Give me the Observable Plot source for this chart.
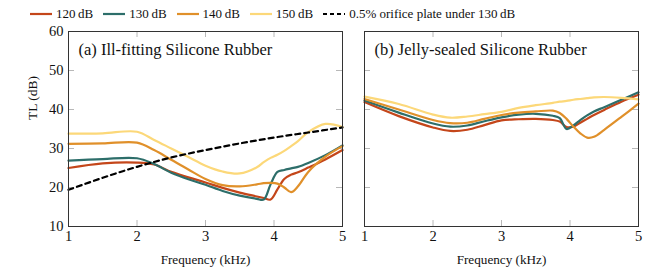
<!DOCTYPE html>
<html>
<head>
<meta charset="utf-8">
<script src="https://cdn.jsdelivr.net/npm/d3@7"></script>
<script src="https://cdn.jsdelivr.net/npm/@observablehq/plot@0.6"></script>
<style>
  html, body { margin: 0; padding: 0; background: #fff; }
  #wrap { width: 654px; height: 273px; font-family: "Liberation Serif", "DejaVu Serif", serif; color: #111; }
  #legend { height: 28px; display: flex; align-items: center; padding-left: 30px; font-size: 13px; }
  .item { display: flex; align-items: center; margin-right: 10px; }
  .item svg { margin-right: 4px; }
  #row { display: flex; height: 245px; }
  svg { overflow: visible; }
</style>
</head>
<body>
<div id="wrap">
  <div id="legend"></div>
  <div id="row"></div>
</div>
<script>
// ---- data ----
const freq = [1, 1.5, 2, 2.25, 2.5, 2.75, 3, 3.25, 3.5, 3.75, 3.85, 3.95, 4.05, 4.15, 4.25, 4.35, 4.5, 4.75, 5];

// (a) Ill-fitting Silicone Rubber
const a120 = [25.0, 26.2, 26.4, 25.9, 24.0, 22.6, 21.3, 19.9, 18.7, 17.7, 17.3, 16.9, 19.5, 22.2, 23.3, 23.9, 25.1, 27.2, 29.6];
const a130 = [26.9, 27.3, 27.5, 26.0, 23.8, 22.1, 20.7, 19.1, 17.9, 17.1, 16.9, 20.8, 24.0, 24.5, 24.9, 25.3, 26.3, 28.3, 30.8];
const a140 = [31.2, 31.3, 31.5, 29.6, 27.1, 24.6, 22.2, 20.6, 20.3, 20.8, 21.1, 21.2, 21.0, 20.0, 18.8, 20.3, 24.0, 27.9, 30.6];
const a150 = [33.8, 33.9, 34.3, 32.2, 30.0, 27.8, 25.6, 24.1, 23.6, 25.2, 26.5, 27.6, 28.4, 29.4, 30.6, 31.9, 34.2, 36.3, 35.5];

// (b) Jelly-sealed Silicone Rubber
const b120 = [41.9, 38.3, 35.4, 34.5, 34.8, 36.0, 37.2, 37.5, 37.6, 37.3, 36.9, 35.5, 35.6, 36.6, 37.6, 38.6, 39.9, 42.0, 43.8];
const b130 = [42.3, 39.2, 36.4, 35.6, 35.9, 37.0, 38.0, 38.7, 38.9, 38.4, 37.8, 35.0, 35.9, 37.3, 38.5, 39.5, 40.6, 42.5, 44.4];
const b140 = [42.7, 40.0, 37.3, 36.5, 36.6, 37.6, 38.6, 39.2, 39.5, 39.7, 39.1, 37.6, 35.6, 33.9, 32.8, 33.0, 34.8, 38.1, 41.5];
const b150 = [43.3, 41.4, 38.7, 37.9, 38.2, 38.8, 39.4, 40.4, 41.1, 41.7, 42.0, 42.2, 42.5, 42.7, 42.9, 43.1, 43.2, 43.0, 42.6];

// 0.5% orifice plate under 130 dB
const orificeFreq = [1, 1.5, 2, 2.5, 3, 3.5, 4, 4.5, 5];
const orificeTL = [19.4, 22.5, 25.3, 27.7, 29.6, 31.3, 32.8, 34.1, 35.4];

const seriesNames = ["120\u2009dB", "130\u2009dB", "140\u2009dB", "150\u2009dB"];
const seriesColors = ["#c4461a", "#2d6e6a", "#e0902a", "#fcd879"];
const orificeName = "0.5% orifice plate under 130\u2009dB";
const panelTitles = ["(a) Ill-fitting Silicone Rubber", "(b) Jelly-sealed Silicone Rubber"];
const xTicks = [1, 2, 3, 4, 5];
const yTicks = [10, 20, 30, 40, 50, 60];
const xLabel = "Frequency (kHz)";
const yLabel = "TL (dB)";

// ---- build tables ----
function table(arrs) {
  const rows = [];
  arrs.forEach((arr, k) => arr.forEach((v, i) => rows.push({series: seriesNames[k], f: freq[i], tl: v})));
  return rows;
}
const dataA = table([a120, a130, a140, a150]);
const dataB = table([b120, b130, b140, b150]);
const orifice = orificeFreq.map((f, i) => ({f, tl: orificeTL[i]}));

// ---- legend ----
const legend = document.getElementById("legend");
function addItem(name, color, dashed) {
  const d = document.createElement("div");
  d.className = "item";
  d.innerHTML = `<svg width="22" height="6"><line x1="0" x2="22" y1="3" y2="3" stroke="${color}" stroke-width="2.2"${dashed ? ' stroke-dasharray="4,3"' : ''}/></svg><span>${name}</span>`;
  legend.appendChild(d);
}
seriesNames.forEach((n, i) => addItem(n, seriesColors[i], false));
addItem(orificeName, "#000", true);

// ---- panels ----
function panel(data, title, opts) {
  const {width, marginLeft, marginRight, showY, showOrifice} = opts;
  const frameW = width - marginLeft - marginRight;
  const frameH = 245 - 3 - 47;
  const tickLen = 6;
  const marks = [
    Plot.tickX(xTicks, {x: d => d, insetTop: frameH - tickLen, stroke: "#b8b8b8"}),
    Plot.tickX(xTicks, {x: d => d, insetBottom: frameH - tickLen, stroke: "#b8b8b8"}),
    Plot.tickY(yTicks, {y: d => d, insetRight: frameW - tickLen, stroke: "#b8b8b8"}),
    Plot.tickY(yTicks, {y: d => d, insetLeft: frameW - tickLen, stroke: "#b8b8b8"}),
    Plot.line(data, {x: "f", y: "tl", stroke: "series", z: "series", curve: "catmull-rom", strokeWidth: 2.2}),
  ];
  if (showOrifice) marks.push(Plot.line(orifice, {x: "f", y: "tl", stroke: "#000", strokeWidth: 2.2, strokeDasharray: "5,4", curve: "catmull-rom"}));
  marks.push(
    Plot.frame({stroke: "#333", strokeWidth: 1}),
    Plot.text([title], {frameAnchor: "top-left", dx: 10, dy: 18, lineAnchor: "middle", textAnchor: "start", fontSize: 16.5, fill: "#111"}),
    Plot.axisX(xTicks, {tickSize: 0, tickPadding: 4, fontSize: 14.5, label: null}),
    Plot.text([xLabel], {frameAnchor: "bottom", dy: 33, lineAnchor: "middle", fontSize: 13.2, fill: "#111"})
  );
  if (showY) {
    marks.push(
      Plot.axisY(yTicks, {tickSize: 0, tickPadding: 5, fontSize: 14.5, label: null}),
      Plot.text([yLabel], {frameAnchor: "left", dx: -36, dy: -9, rotate: -90, lineAnchor: "middle", fontSize: 13.5, fill: "#111"})
    );
  }
  return Plot.plot({
    width, height: 245,
    marginTop: 3, marginBottom: 47, marginLeft, marginRight,
    style: {fontFamily: "'Liberation Serif', 'DejaVu Serif', serif", color: "#111", background: "transparent"},
    x: {domain: [1, 5], axis: null},
    y: {domain: [10, 60], axis: null},
    color: {domain: seriesNames, range: seriesColors},
    marks
  });
}

const row = document.getElementById("row");
row.appendChild(panel(dataA, panelTitles[0], {width: 350, marginLeft: 68, marginRight: 8, showY: true, showOrifice: true}));
row.appendChild(panel(dataB, panelTitles[1], {width: 304, marginLeft: 14, marginRight: 16, showY: false, showOrifice: false}));
</script>
</body>
</html>
